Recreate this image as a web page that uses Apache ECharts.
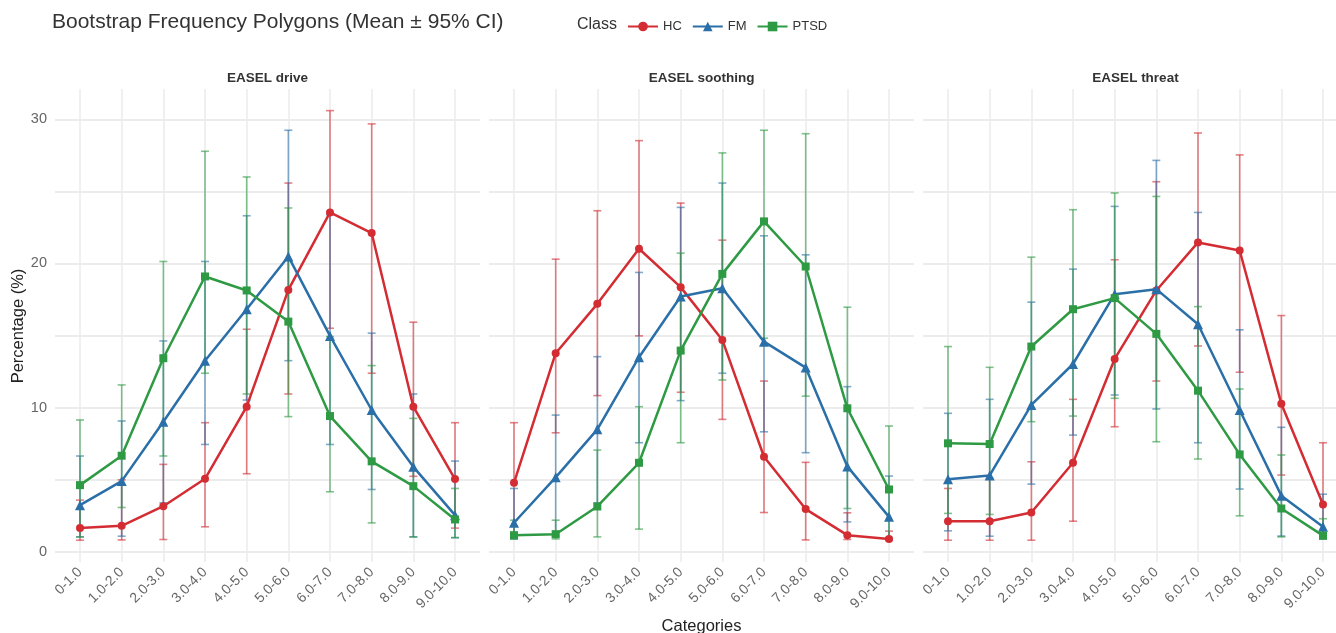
<!DOCTYPE html>
<html>
<head>
<meta charset="utf-8">
<title>Bootstrap Frequency Polygons</title>
<script src="https://cdn.jsdelivr.net/npm/echarts@6/dist/echarts.min.js"></script>
<style>
  html, body { margin: 0; padding: 0; background: #ffffff; }
  #chart { width: 1336px; height: 633px; }
</style>
</head>
<body>
<div id="chart"></div>
<script>
// Score bins shared by every panel
const categories = ['0-1.0', '1.0-2.0', '2.0-3.0', '3.0-4.0', '4.0-5.0',
                    '5.0-6.0', '6.0-7.0', '7.0-8.0', '8.0-9.0', '9.0-10.0'];
const panelTitles = ['EASEL drive', 'EASEL soothing', 'EASEL threat'];
const classNames = ['HC', 'FM', 'PTSD'];
const yLabelValues = [0, 10, 20, 30];
const yGridValues = [0, 5, 10, 15, 20, 25, 30];

// EASEL drive: bootstrap mean, lower and upper 95% CI (percent)
const driveHCMean   = [1.65, 1.81, 3.17, 5.07, 10.07, 18.17, 23.54, 22.11, 10.07, 5.05];
const driveHCLow    = [0.81, 0.83, 0.86, 1.74, 5.42, 10.95, 15.51, 12.39, 5.24, 1.65];
const driveHCHigh   = [3.59, 5.00, 6.07, 8.96, 15.44, 25.58, 30.60, 29.68, 15.93, 8.96];
const driveFMMean   = [3.24, 4.91, 9.03, 13.26, 16.83, 20.49, 14.98, 9.84, 5.90, 2.55];
const driveFMLow    = [1.04, 1.09, 3.40, 7.45, 10.53, 13.26, 7.45, 4.33, 1.04, 0.98];
const driveFMHigh   = [6.65, 9.08, 14.63, 20.14, 23.31, 29.24, 23.38, 15.17, 10.95, 6.30];
const drivePTSDMean = [4.63, 6.67, 13.43, 19.10, 18.13, 15.97, 9.42, 6.28, 4.56, 2.25];
const drivePTSDLow  = [1.04, 3.08, 6.65, 12.39, 10.95, 9.38, 4.17, 2.01, 1.04, 1.00];
const drivePTSDHigh = [9.15, 11.58, 20.14, 27.78, 26.00, 23.85, 14.93, 12.92, 9.26, 4.40];

// EASEL soothing
const soothHCMean   = [4.79, 13.78, 17.20, 21.02, 18.36, 14.70, 6.60, 2.97, 1.16, 0.90];
const soothHCLow    = [1.20, 8.26, 10.84, 14.98, 11.07, 9.19, 2.73, 0.83, 0.86, 0.80];
const soothHCHigh   = [8.96, 20.30, 23.66, 28.52, 24.19, 21.62, 11.85, 6.21, 2.71, 1.44];
const soothFMMean   = [2.02, 5.17, 8.50, 13.50, 17.71, 18.29, 14.58, 12.78, 5.93, 2.43];
const soothFMLow    = [0.90, 1.10, 3.40, 7.57, 10.49, 12.39, 8.33, 6.88, 2.08, 0.90];
const soothFMHigh   = [4.40, 9.49, 13.54, 19.38, 23.89, 25.58, 21.92, 20.60, 11.46, 5.26];
const soothPTSDMean = [1.16, 1.23, 3.15, 6.18, 13.96, 19.28, 22.92, 19.79, 9.96, 4.33];
const soothPTSDLow  = [0.90, 0.90, 1.04, 1.58, 7.57, 11.92, 14.82, 10.80, 3.01, 1.00];
const soothPTSDHigh = [2.20, 2.20, 7.06, 10.07, 20.72, 27.67, 29.24, 29.00, 16.97, 8.73];

// EASEL threat
const threatHCMean   = [2.13, 2.13, 2.73, 6.18, 13.38, 18.13, 21.46, 20.90, 10.28, 3.29];
const threatHCLow    = [0.81, 0.81, 0.81, 2.13, 8.68, 11.85, 14.28, 12.46, 5.33, 1.00];
const threatHCHigh   = [4.40, 5.10, 6.25, 10.58, 20.26, 25.67, 29.05, 27.53, 16.39, 7.57];
const threatFMMean   = [5.03, 5.30, 10.19, 13.03, 17.87, 18.22, 15.79, 9.84, 3.90, 1.74];
const threatFMLow    = [1.46, 1.09, 4.70, 8.10, 10.88, 9.91, 7.57, 4.36, 1.10, 0.90];
const threatFMHigh   = [9.61, 10.58, 17.32, 19.61, 23.96, 27.15, 23.54, 15.40, 8.64, 4.00];
const threatPTSDMean = [7.53, 7.48, 14.24, 16.83, 17.60, 15.12, 11.18, 6.76, 3.01, 1.13];
const threatPTSDLow  = [2.67, 2.60, 9.03, 9.42, 10.65, 7.64, 6.44, 2.50, 1.04, 0.90];
const threatPTSDHigh = [14.24, 12.80, 20.44, 23.73, 24.89, 24.65, 17.01, 11.30, 6.72, 2.30];

// Per-panel grouping used to build series
const panels = [
  [[driveHCMean, driveHCLow, driveHCHigh], [driveFMMean, driveFMLow, driveFMHigh], [drivePTSDMean, drivePTSDLow, drivePTSDHigh]],
  [[soothHCMean, soothHCLow, soothHCHigh], [soothFMMean, soothFMLow, soothFMHigh], [soothPTSDMean, soothPTSDLow, soothPTSDHigh]],
  [[threatHCMean, threatHCLow, threatHCHigh], [threatFMMean, threatFMLow, threatFMHigh], [threatPTSDMean, threatPTSDLow, threatPTSDHigh]]
];

const colors = ['#d42c33', '#2b6fa8', '#2e9a43'];
const symbols = ['circle', 'triangle', 'rect'];
const symbolSizes = [8, 10, 8];
const FONT = '"Liberation Sans", Arial, Helvetica, sans-serif';

// Facet panels; the last one runs slightly past the right edge of the canvas
const panelLeft = [55, 489, 923];
const panelWidth = 425;
const panelTop = 89;
const panelHeight = 473;

const chart = echarts.init(document.getElementById('chart'), null, { renderer: 'canvas' });

const grids = [], xAxes = [], yAxes = [], series = [];
const xTickValues = categories.map((_, i) => i + 1);

panels.forEach((panel, p) => {
  grids.push({
    left: panelLeft[p], top: panelTop, width: panelWidth, height: panelHeight,
    containLabel: false, outerBoundsMode: 'none'
  });
  xAxes.push({
    type: 'value', gridIndex: p, min: 0.4, max: 10.6,
    axisLine: { show: false },
    axisTick: { show: false, customValues: xTickValues },
    splitLine: { show: true, lineStyle: { color: '#ebebeb', width: 1.5 } },
    axisLabel: {
      customValues: xTickValues,
      formatter: v => categories[Math.round(v) - 1] || '',
      rotate: 45, margin: 8, color: '#666666', fontSize: 14, fontFamily: FONT
    }
  });
  yAxes.push({
    type: 'value', gridIndex: p, min: -0.7, max: 32.1,
    axisLine: { show: false },
    axisTick: { show: false, customValues: yGridValues },
    splitLine: { show: true, lineStyle: { color: '#e6e6e6', width: 1.5 } },
    axisLabel: {
      show: p === 0, customValues: yLabelValues, margin: 8,
      color: '#666666', fontSize: 14.5, fontFamily: FONT
    }
  });

  panel.forEach((cls, c) => {
    const [mean, low, high] = cls;
    // 95% CI whiskers
    series.push({
      type: 'custom', xAxisIndex: p, yAxisIndex: p, z: 2, silent: true,
      data: categories.map((_, i) => [i + 1, low[i], high[i]]),
      encode: { x: 0, y: [1, 2] },
      renderItem: (params, api) => {
        const x = api.value(0);
        const a = api.coord([x, api.value(1)]);
        const b = api.coord([x, api.value(2)]);
        const hw = 4;
        const st = { stroke: colors[c], lineWidth: 1.6, opacity: 0.6 };
        return {
          type: 'group',
          children: [
            { type: 'line', shape: { x1: a[0], y1: a[1], x2: b[0], y2: b[1] }, style: st },
            { type: 'line', shape: { x1: a[0] - hw, y1: a[1], x2: a[0] + hw, y2: a[1] }, style: st },
            { type: 'line', shape: { x1: b[0] - hw, y1: b[1], x2: b[0] + hw, y2: b[1] }, style: st }
          ]
        };
      }
    });
    // mean polygon
    series.push({
      type: 'line', name: classNames[c], xAxisIndex: p, yAxisIndex: p, z: 3 + c,
      data: mean.map((v, i) => [i + 1, v]),
      symbol: symbols[c], symbolSize: symbolSizes[c], showSymbol: true,
      lineStyle: { color: colors[c], width: 2.5 },
      itemStyle: { color: colors[c] },
      emphasis: { disabled: true }
    });
  });
});

const panelCenters = panelLeft.map(l => l + panelWidth / 2);

chart.setOption({
  animation: false,
  backgroundColor: '#ffffff',
  textStyle: { fontFamily: FONT },
  grid: grids,
  xAxis: xAxes,
  yAxis: yAxes,
  series: series,
  legend: {
    data: classNames,
    left: 622, top: 15,
    itemWidth: 30, itemHeight: 12, itemGap: 10,
    textStyle: { color: '#333333', fontSize: 13, fontFamily: FONT },
    selectedMode: false
  },
  graphic: [
    { type: 'text', x: 52, y: 22,
      style: { text: 'Bootstrap Frequency Polygons (Mean ± 95% CI)', font: '21px ' + FONT, fill: '#333333', verticalAlign: 'middle' } },
    { type: 'text', x: 577, y: 25,
      style: { text: 'Class', font: '16px ' + FONT, fill: '#333333', verticalAlign: 'middle' } },
    ...panelTitles.map((t, p) => ({
      type: 'text', x: panelCenters[p], y: 78,
      style: { text: t, font: 'bold 13.5px ' + FONT, fill: '#333333', align: 'center', verticalAlign: 'middle' }
    })),
    { type: 'text', x: 18, y: 326, rotation: Math.PI / 2,
      style: { text: 'Percentage (%)', font: '16.5px ' + FONT, fill: '#222222', align: 'center', verticalAlign: 'middle' } },
    { type: 'text', x: panelCenters[1], y: 626,
      style: { text: 'Categories', font: '16.5px ' + FONT, fill: '#222222', align: 'center', verticalAlign: 'middle' } }
  ]
});
</script>
</body>
</html>
